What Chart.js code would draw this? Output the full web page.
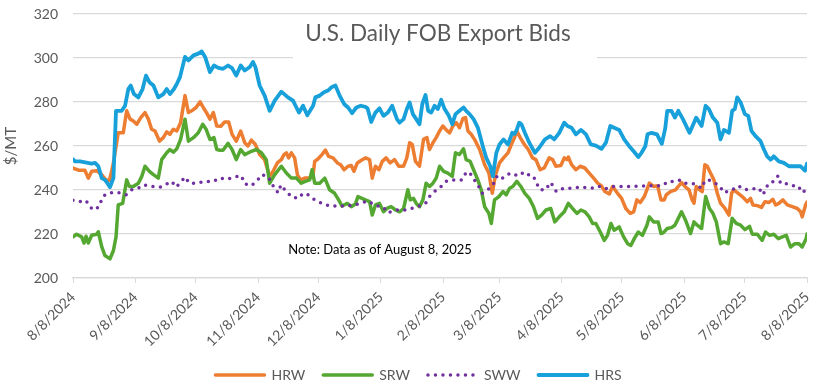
<!DOCTYPE html>
<html>
<head>
<meta charset="utf-8">
<script src="https://cdn.jsdelivr.net/npm/chart.js@4.4.1/dist/chart.umd.min.js"></script>
<style>
  html, body { margin: 0; padding: 0; background: #fff; }
</style>
</head>
<body>
<canvas id="bidsChart" width="816" height="390"></canvas>
<script>
// x = days since 8/8/2024
const monthDays = [0, 31, 61, 92, 122, 153, 184, 212, 243, 273, 304, 334, 365];
const monthLabels = ['8/8/2024', '9/8/2024', '10/8/2024', '11/8/2024', '12/8/2024', '1/8/2025',
    '2/8/2025', '3/8/2025', '4/8/2025', '5/8/2025', '6/8/2025', '7/8/2025', '8/8/2025'];
const yTicks = [200, 220, 240, 260, 280, 300, 320];

const hrsDays = [0, 1, 3.5, 9.3, 11, 12.6, 14.3, 15.9, 17.1, 18.4, 20.1, 21.4, 24.2, 25.9, 27.5, 28.7, 30.3, 32.5, 34.6, 36.3,
    38, 40, 42.4, 44.9, 46.6, 48.2, 50.2, 51.6, 53.2, 55.7, 57.4, 59.9, 62.3, 64, 65.7, 68.1, 70.1, 72.3, 74.6, 77.1,
    79.1, 81.2, 83.4, 85.4, 87.9, 89.5, 90.7, 92.8, 95.3, 97.8, 100.3, 103.6, 106.9, 109.4, 111.1, 112.4, 114.4, 116.5, 119.4, 120.5,
    122.7, 124.8, 126.8, 128.5, 130.5, 132.6, 134.8, 136.8, 138.8, 140.9, 143.1, 145.4, 146.5, 148.3, 150.4, 152.4, 154.4, 156.6, 158.7, 161.1,
    162.4, 164.4, 166, 167.4, 169, 170.7, 172.3, 173.7, 175.3, 176.6, 178.1, 179.8, 181.4, 183.1, 184.8, 186.9, 188.6, 190.2, 192.2, 194.2,
    195.5, 197.2, 199.2, 201.3, 203.8, 205.5, 207.5, 208.8, 210.5, 212.1, 214.1, 216.3, 218.4, 219.6, 220.7, 221.9, 223, 224.7, 226.9, 229.7,
    231.8, 234.7, 237.3, 239.3, 241.8, 244.3, 245.9, 247.9, 250.1, 252.6, 255.1, 257.5, 260, 262.8, 265, 267.2, 269.1, 271.6, 274.1, 276.6,
    278.8, 281.1, 282.7, 284.6, 285.7, 287.7, 290.4, 292.8, 294.5, 295.5, 297.6, 299.3, 301, 303.3, 306.6, 308.8, 309.9, 312.6, 314.6, 316.2,
    318.2, 320.4, 322, 323.7, 326.2, 327.8, 329.1, 330.3, 332, 334.1, 335.8, 337.4, 339.4, 341.9, 343.6, 345.2, 346.9, 348.5, 351, 353.5,
    356, 359.3, 361.8, 364, 365];
const hrsValues = [254, 253, 253, 252, 252.3, 250.8, 245.4, 244.6, 243.1, 241.3, 245.4, 276, 276, 278.3, 285.9, 287.5, 283.6, 282.1, 285.9, 292,
    289, 287.5, 282.1, 283.6, 285.9, 283.6, 285.9, 288.2, 291.3, 300.5, 298.9, 301.2, 302, 303, 300.5, 293.6, 296.6, 295.5, 295.1, 296.6,
    295.4, 292, 296.6, 294.3, 295.9, 298.2, 295.9, 287.5, 282.9, 276, 280.6, 284.7, 282.1, 280.6, 277.5, 275.2, 278.3, 274, 278.3, 282.1,
    282.9, 284.4, 285.2, 286.7, 287.5, 282.9, 279.1, 277.5, 274.9, 277.5, 278.3, 277.8, 277, 270.9, 275.2, 277.1, 273.7, 275.2, 278.3, 272.2,
    270.6, 272.2, 276.8, 279.8, 274.5, 272.2, 269.9, 279.1, 283.2, 276, 275.2, 278.3, 276.8, 281, 276.8, 273.7, 269.9, 274.5, 276, 277.5,
    276, 274.5, 272.2, 268.4, 259.9, 254.6, 250.8, 246.2, 256.9, 260.7, 263, 260.7, 266, 265.5, 267.5, 270.6, 269.9, 266, 261.5, 256.9,
    259.2, 263, 264.5, 263, 266, 270.6, 269.1, 268.3, 265.3, 267.3, 265.3, 260.7, 260.2, 258.7, 261.5, 269.1, 268.3, 267.3, 263, 259.9,
    257.6, 255, 256.9, 259.9, 265.3, 266, 265.3, 261, 268, 276, 276, 272.9, 276, 272.2, 266, 270.6, 272.9, 269.1, 278.3, 276.8,
    272.9, 270.6, 263, 267.3, 266, 276, 276.8, 282.1, 279.8, 274.5, 273.7, 266.8, 264.5, 262.2, 258.4, 255.3, 253.8, 255.3, 253, 252.3,
    250.8, 250.8, 250.8, 248.8, 252];

const hrwDays = [0, 2.7, 5.9, 7.6, 9.3, 11.8, 14.3, 16.4, 18.1, 19.2, 20.1, 22.5, 25, 26.7, 28.4, 30, 31.7, 33.7, 35.8, 37.5,
    39.1, 40.8, 43, 44.9, 46.6, 48.2, 49.9, 51.6, 53.5, 55.7, 57.4, 59, 61.2, 63.2, 64.8, 66.8, 68.1, 69.8, 71.5, 73.5,
    75.4, 77.4, 79.1, 81.2, 83.4, 85.4, 87, 88.7, 90.7, 92.8, 95.3, 97.8, 99.5, 101.6, 103.6, 104.9, 106.1, 107.2, 108.6, 110.2,
    111.6, 113.2, 115.2, 117.7, 119.4, 120.2, 121.8, 123.8, 125.5, 127.1, 129.3, 131.5, 133.1, 134.8, 136.8, 138.4, 139.7, 141.4, 143.4, 145.4,
    147.5, 148.8, 150.4, 152.1, 153.8, 155.7, 157.7, 159.9, 162, 164.4, 166, 167.4, 168.7, 170.3, 172.3, 174.3, 176, 177.3, 179, 180.6,
    182.3, 183.9, 185.6, 187.3, 188.9, 190.6, 192.2, 193.9, 195.2, 196.4, 198, 199.7, 202.2, 204.7, 206.8, 208.5, 210.1, 212.1, 214.1, 216.3,
    218.4, 219.6, 220.7, 222.4, 224.4, 226.4, 228.5, 230.2, 232.3, 234.3, 236.8, 238.5, 240.1, 242.6, 244.3, 245.6, 246.3, 247.9, 250.1, 252.2,
    254.5, 256.7, 258.9, 260.9, 262.8, 264.5, 266.7, 268.3, 270.8, 272.8, 274.9, 277.1, 278.8, 280.4, 282.1, 284.1, 286.6, 288.7, 290.7, 292.4,
    294, 295, 297.1, 299.6, 301, 302.6, 304.3, 306.3, 307.9, 308.8, 309.9, 311.6, 312.9, 314.2, 315.4, 317, 318.7, 320.4, 322, 324.2,
    326.2, 327.5, 328.6, 330.8, 332.8, 335.3, 336.9, 338.1, 340.3, 342.4, 344.1, 346.1, 348, 349.4, 351, 353, 355.2, 357.7, 360.2, 361.8,
    362.6, 364.3, 365];
const hrwValues = [250, 249, 249, 245.4, 248.5, 248.8, 246.9, 244.6, 244.3, 248.5, 252.3, 266, 266, 276, 272.2, 271.4, 269.9, 272.9, 275.2, 272.2,
    267.6, 266.8, 262.2, 263.8, 266.4, 265.3, 267.6, 266.8, 270.6, 282.9, 275.2, 276, 277.5, 280.1, 277.5, 274.5, 272.2, 275.2, 269.1, 269,
    270.9, 270.9, 265.3, 262.2, 266.8, 261.5, 260, 262.7, 260.7, 256.1, 253.8, 246.2, 248.5, 252.3, 253.8, 256.1, 256.9, 254.6, 256.9, 254.6,
    246.9, 244.6, 245.4, 245.4, 246.9, 253, 254.1, 256.1, 258.1, 255.3, 254.6, 252.3, 251.5, 249.2, 250.8, 251.1, 248.5, 252.3, 253.5, 254.6,
    253.8, 245.4, 250.8, 249.2, 253, 254.6, 252.3, 253.8, 250.8, 250.8, 254.6, 261.5, 260.7, 253, 250.8, 263, 263.8, 258.4, 261.5, 263.8,
    266.8, 269.1, 267.3, 266, 269.1, 270.6, 268.3, 272.5, 272.9, 266.8, 265.3, 263, 258.4, 251.5, 247.7, 238.5, 246.9, 252.3, 254.6, 256.9,
    261.5, 264, 266.8, 263.8, 260.7, 258.4, 254.6, 253.8, 249.2, 250, 254.6, 253.8, 250.8, 251.1, 254.6, 253.8, 255, 251.5, 249.2, 250.8,
    250, 247.7, 245.4, 243.1, 241.9, 239.3, 238.2, 241.6, 238.5, 236.2, 231.6, 229.4, 230.1, 235.5, 234.3, 237, 243.1, 241.6, 241.9, 235.5,
    235.5, 237.8, 239.3, 240.1, 241.6, 243.4, 241.6, 240.1, 235.5, 234, 241.6, 240.1, 239.3, 251.5, 250.8, 247.7, 244.6, 238.5, 234, 231.6,
    228.6, 238.5, 240.1, 238.5, 237, 234.7, 236.2, 233.2, 232.9, 232.1, 234.7, 234.3, 235.8, 233.2, 233.9, 235.5, 233.2, 232.4, 231.6, 230.1,
    227.8, 233.2, 234.5];

const srwDays = [0, 1.8, 4.3, 5.5, 6.5, 7.6, 9.3, 11.8, 12.6, 14.3, 15.9, 18.4, 20.1, 21.4, 22.5, 24.7, 26.7, 28, 30, 32.5,
    34.2, 35.8, 38, 40, 42.4, 44.1, 46.6, 48.2, 49.9, 51.6, 53.5, 55.7, 57.4, 59.9, 62.3, 64.5, 66.2, 68.1, 70.1, 71.5,
    73.1, 74.6, 77.1, 79.1, 81.2, 83.4, 85.4, 88.7, 91.2, 93.7, 96.1, 97.8, 100.3, 103.6, 106.1, 108.6, 111.1, 113.5, 115.5, 117.7,
    118.9, 120.2, 122.7, 125.2, 127.6, 130.1, 132.1, 133.8, 136.4, 138.4, 140.4, 141.7, 143.7, 145.4, 147.5, 148.8, 150.4, 152.4, 154.4, 156.1,
    158.2, 160.4, 162.4, 164.4, 166.5, 167.7, 169.3, 170.7, 172.3, 174, 175.6, 177.3, 179, 180.6, 182.3, 184.3, 186.4, 188.6, 190.2, 192.2,
    194.2, 195.5, 197.5, 199.2, 201.3, 203, 204.7, 206.8, 208, 209.6, 211.8, 213.8, 215.4, 217.1, 218.7, 220.7, 222.7, 224.7, 226.9, 229,
    231, 233, 235.2, 237.6, 239.6, 241.8, 244.3, 246.3, 248.4, 250.6, 252.6, 254.6, 256.7, 258.4, 260, 262.2, 264.2, 265.8, 267.5, 269.1,
    271.6, 273.8, 275.8, 277.4, 279.1, 281.1, 283.2, 285.4, 286.6, 288.7, 291, 292.4, 293.5, 295.5, 297.6, 299.3, 301, 302.6, 304.6, 307.1,
    308.8, 310.4, 312.6, 314.6, 316.5, 318.2, 319.9, 322, 323.7, 325.8, 327.8, 329.8, 332, 334.1, 336.4, 337.8, 340.3, 342.7, 344.4, 346.4,
    348.5, 350.7, 352.7, 354.7, 356.8, 359, 361, 362.6, 364.6, 365];
const srwValues = [218.7, 219.9, 218.7, 215.9, 219, 215.9, 219.4, 219.9, 221, 214.1, 210.2, 208.7, 212.5, 218.7, 233.2, 233.9, 244.6, 241.6, 241.6, 243.1,
    246.2, 250.8, 248.5, 247, 245.4, 253.8, 256.9, 258.4, 257.2, 258.7, 263, 272.2, 262.2, 263.8, 266, 269.9, 267.6, 263, 263.8, 258.4,
    258.1, 258.1, 261.2, 258.4, 253.8, 258.4, 256.1, 257.6, 258.4, 256.9, 253.8, 243.1, 247, 250.8, 247.7, 245.4, 245.4, 243.1, 243.9, 244.6,
    249.2, 243.1, 243.1, 245.4, 240.1, 238.5, 235.5, 232.7, 233.9, 232.4, 233.6, 237, 236.2, 235.5, 234.7, 228.6, 233.2, 233.9, 230.1, 231.6,
    232.4, 230.9, 230.1, 231.6, 240.1, 235.5, 236.2, 233.9, 232.4, 235.5, 243.1, 241.6, 243.1, 245.4, 250.8, 248.5, 247.7, 246.2, 256.9, 256.1,
    258.7, 253.8, 253, 249.2, 244.6, 240.1, 232.4, 229.4, 224.8, 235.5, 237, 239.3, 237.8, 240.8, 241.6, 243.9, 241.6, 238.5, 236.2, 232.4,
    227.1, 228.6, 230.9, 231.6, 225.5, 227.8, 230.1, 233.9, 231.6, 229.4, 230.9, 230.1, 227.8, 224.8, 224.8, 220.9, 217.1, 219.4, 224.8, 221.7,
    223.2, 218.7, 215.6, 214.8, 217.9, 220.9, 219.4, 224, 227.8, 225.5, 225.5, 220.2, 220.5, 222.5, 222.9, 224, 227.1, 230.1, 226.3, 220.2,
    225.5, 224, 222.5, 237, 231.6, 229.4, 225.5, 215.6, 216.4, 215.6, 227.1, 224.8, 224, 222, 223.5, 219.9, 219.9, 217.1, 220.9, 219.4,
    219.9, 217.9, 218.7, 219.4, 214.1, 215.6, 215.6, 214.1, 217.9, 220];

const swwDays = [0, 2.7, 6.5, 8.1, 10.1, 12.6, 15.1, 18.1, 22.5, 26.4, 29.2, 32.5, 35, 39.1, 43.3, 46.6, 49.1, 51.2, 53.5, 55.7,
    57.9, 61.5, 65.7, 69.8, 72.8, 76.7, 80.4, 83.7, 85.4, 88.7, 91.7, 93.7, 96.1, 98.6, 100.3, 102.3, 103.3, 106.1, 108.9, 112.2,
    114.4, 117.2, 120.2, 123.8, 127.6, 131.5, 135.9, 140.1, 143.7, 146.5, 150.8, 154.1, 156.6, 160.7, 164.9, 168.2, 172, 175.3, 177.3, 179.8,
    183.1, 185.6, 188.1, 190.6, 193.5, 195.5, 197.2, 198.9, 201.3, 203.5, 206.3, 208.8, 210.8, 212.9, 215.4, 217.9, 220.4, 221.9, 223.5, 225.7,
    226.9, 229, 230.7, 232.3, 235.2, 237.3, 239, 240.3, 243.9, 248.4, 252.6, 259.2, 261.7, 264.5, 268.3, 276.6, 284.9, 293, 296, 300,
    302.1, 304.6, 308.8, 312.6, 314.2, 316.2, 318.7, 321.5, 323.7, 327.8, 330.8, 334.1, 336.9, 341.1, 343.1, 344.4, 345.7, 348.5, 350.7, 351.9,
    355.7, 358, 360.6, 362.6, 364.6, 365];
const swwValues = [235.3, 234.7, 235.2, 232.7, 230.9, 232.1, 237.3, 238.8, 238.8, 237.8, 240.1, 240.8, 242.3, 241.6, 241.3, 242.8, 243.9, 241.3, 243.4, 245.9,
    243.1, 243.1, 243.9, 243.9, 245.5, 244.9, 245.9, 246.5, 242.8, 241.9, 244.3, 246.9, 246.5, 243.9, 240.1, 238.8, 242.3, 239.3, 236.7, 236.2,
    238.5, 237.8, 235.5, 233.9, 232.7, 232.7, 232.7, 233.2, 234.2, 235, 232.9, 232.4, 229.7, 230.9, 230.9, 231.6, 232.7, 233.9, 237, 239.3,
    241.6, 243.9, 244.6, 244.6, 244.6, 248, 248, 245.4, 242.3, 238.5, 240.1, 242.3, 246.2, 244.9, 246.9, 247.7, 246.7, 246.5, 247.7, 248,
    246.5, 246.2, 242.8, 240.1, 240.1, 243.4, 241.6, 239.3, 240.8, 240.8, 241.3, 240.8, 241.6, 240.5, 241.6, 241.6, 241.9, 241.9, 243.9, 243.9,
    244.6, 243.1, 242.8, 240.8, 244.3, 244.6, 243.4, 241.9, 238.8, 240.1, 241.9, 240.1, 240.4, 240.8, 237.8, 240.1, 242.8, 243.9, 246.5, 242.8,
    242.8, 241.9, 241.9, 238.8, 240.1, 240];

const toPoints = (days, values) => days.map((d, i) => ({ x: d, y: values[i] }));

const axisGray = '#595959';
const gridGray = '#d9d9d9';
const font = 'Lato';

const overlay = {
    id: 'overlay',
    afterLayout(chart) {
        // nudge the legend to sit where the original one is
        chart.legend.left += 15;
        chart.legend.right += 15;
    },
    beforeDatasetsDraw(chart) {
        // white box behind the title hides the 300 gridline there
        const { ctx } = chart;
        ctx.save();
        ctx.fillStyle = '#fff';
        ctx.fillRect(293, 17, 304, 46);
        ctx.restore();
    },
    afterDatasetsDraw(chart) {
        const { ctx } = chart;
        ctx.save();
        ctx.textAlign = 'center';
        ctx.textBaseline = 'alphabetic';
        ctx.fillStyle = axisGray;
        ctx.font = '22.5px ' + font;
        ctx.fillText('U.S. Daily FOB Export Bids', 438, 41);
        ctx.fillStyle = '#000';
        ctx.font = '13px ' + font;
        ctx.fillText('Note: Data as of August 8, 2025', 380, 254);
        ctx.restore();
    }
};

const bidsData = {
    datasets: [
        { label: 'HRW', data: toPoints(hrwDays, hrwValues), borderColor: '#ED7D31', backgroundColor: '#ED7D31', borderWidth: 3.5, order: 3 },
        { label: 'SRW', data: toPoints(srwDays, srwValues), borderColor: '#54A832', backgroundColor: '#54A832', borderWidth: 3.5, order: 2 },
        {
            label: 'SWW', data: toPoints(swwDays, swwValues), borderColor: '#7030A0', backgroundColor: '#7030A0',
            borderWidth: 3.5, borderDash: [0, 7.5], order: 1
        },
        { label: 'HRS', data: toPoints(hrsDays, hrsValues), borderColor: '#17A0D9', backgroundColor: '#17A0D9', borderWidth: 3.8, order: 0 },
    ],
};

const bidsConfig = {
    type: 'line',
    data: bidsData,
    options: {
        responsive: false,
        animation: false,
        layout: { padding: { top: 14, right: 9, left: 0, bottom: -2 } },
        elements: {
            point: { radius: 0 },
            line: { tension: 0, borderCapStyle: 'round', borderJoinStyle: 'round' }
        },
        plugins: {
            title: { display: false },
            tooltip: { enabled: false },
            legend: {
                position: 'bottom',
                labels: {
                    usePointStyle: true,
                    pointStyle: 'line',
                    pointStyleWidth: 49,
                    padding: 18,
                    color: axisGray,
                    font: { family: font, size: 14 },
                    generateLabels: chart => Chart.defaults.plugins.legend.labels.generateLabels(chart).map(item => {
                        const ds = chart.data.datasets[item.datasetIndex];
                        item.lineDash = ds.borderDash || [];
                        item.lineCap = 'round';
                        item.lineWidth = ds.borderWidth;
                        return item;
                    }),
                    sort: (a, b) => a.datasetIndex - b.datasetIndex
                }
            }
        },
        scales: {
            x: {
                type: 'linear',
                min: 0,
                max: 365,
                afterBuildTicks: scale => { scale.ticks = monthDays.map(v => ({ value: v })); },
                afterFit: scale => {
                    scale.height = 72;
                    scale.paddingLeft = 0;
                    scale.paddingRight = 0;
                },
                grid: { drawOnChartArea: false, drawTicks: true, tickLength: 5, color: gridGray },
                border: { display: true, color: gridGray, width: 1.3 },
                ticks: {
                    autoSkip: false,
                    maxRotation: 45,
                    minRotation: 45,
                    padding: 6,
                    color: axisGray,
                    font: { family: font, size: 14 },
                    callback: (value, index) => monthLabels[index]
                }
            },
            y: {
                min: 200,
                max: 320,
                afterBuildTicks: scale => { scale.ticks = yTicks.map(v => ({ value: v })); },
                afterFit: scale => {
                    scale.width = 73;
                    scale.paddingTop = 0;
                    scale.paddingBottom = 0;
                },
                grid: { color: gridGray, lineWidth: 1.3, drawTicks: false },
                border: { display: false },
                ticks: { padding: 15, color: axisGray, font: { family: font, size: 14 } },
                title: {
                    display: true,
                    text: '$/MT',
                    color: axisGray,
                    font: { family: font, size: 15 },
                    padding: { top: 2, bottom: 0 }
                }
            }
        }
    },
    plugins: [overlay]
};

const bidsChart = new Chart(document.getElementById('bidsChart'), bidsConfig);
</script>
</body>
</html>
